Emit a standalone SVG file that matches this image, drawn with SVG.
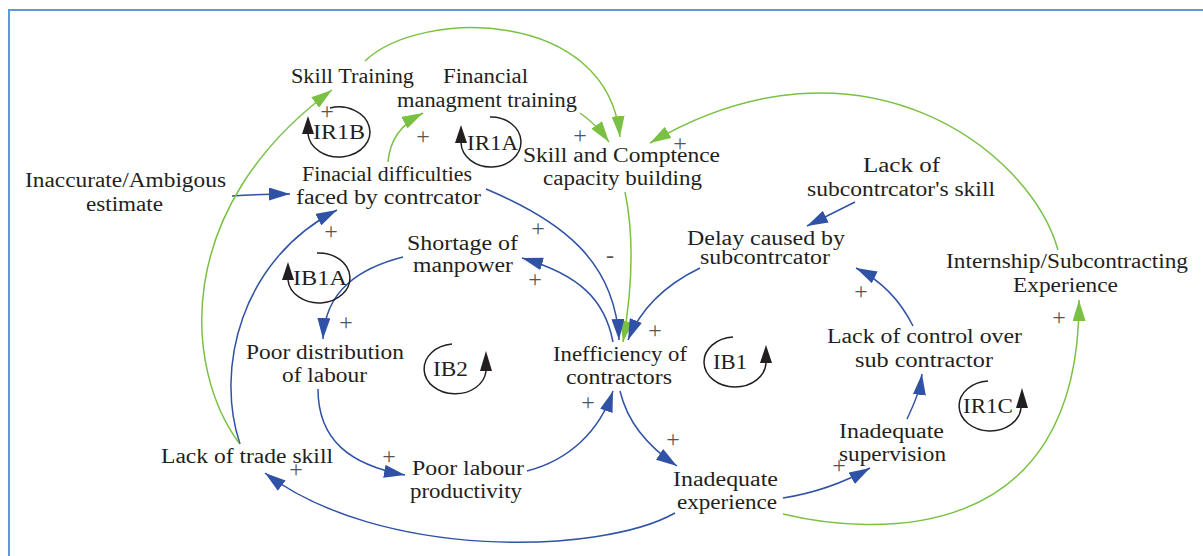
<svg xmlns="http://www.w3.org/2000/svg" width="1203" height="556" viewBox="0 0 1203 556" font-family="Liberation Serif">
<style>
.t{font-size:20px;fill:#231f20}
.p{font-size:24px;fill:#555}
.b{fill:none;stroke:#2f52a6;stroke-width:1.5;marker-end:url(#ab)}
.g{fill:none;stroke:#7ac143;stroke-width:1.5;marker-end:url(#ag)}
.loop{fill:none;stroke:#231f20;stroke-width:1.5}
.lh{fill:#231f20}
</style>
<defs>
<marker id="ab" markerUnits="userSpaceOnUse" markerWidth="21" markerHeight="13" refX="21" refY="6.5" orient="auto" viewBox="0 0 21 13"><path d="M0,0 L21,6.5 L0,13 z" fill="#2f52a6"/></marker>
<marker id="ag" markerUnits="userSpaceOnUse" markerWidth="21" markerHeight="13" refX="21" refY="6.5" orient="auto" viewBox="0 0 21 13"><path d="M0,0 L21,6.5 L0,13 z" fill="#7ac143"/></marker>
</defs>
<rect x="0" y="0" width="1203" height="556" fill="#fff"/>
<rect x="9" y="10" width="1215" height="570" fill="none" stroke="#5b9bd5" stroke-width="2"/>

<g id="connectors">
<path class="b" d="M232,196 Q260,194 290,194"/>
<path class="b" d="M240,444 C215,370 240,260 337,210"/>
<path class="g" d="M239,443 C185,370 170,210 332,90"/>
<path class="g" d="M365,61 C420,8 608,8 620,137"/>
<path class="g" d="M388,162 C390,140 400,125 423,113"/>
<path class="g" d="M580,113 Q596,124 609,142"/>
<path class="g" d="M1058,250 C1030,150 860,20 650,143"/>
<path class="g" d="M625,192 C635,240 632,290 623,342"/>
<path class="b" d="M486,189 C560,220 615,260 619,340"/>
<path class="b" d="M613,342 C605,300 580,275 522,258"/>
<path class="b" d="M700,268 C665,285 640,310 628,340"/>
<path class="b" d="M855,202 L807,226"/>
<path class="b" d="M913,326 C900,300 880,280 856,268"/>
<path class="b" d="M907,419 C915,402 920,390 922,374"/>
<path class="b" d="M783,498 C815,493 845,482 870,468"/>
<path class="g" d="M783,514 C870,535 1080,550 1079,300"/>
<path class="b" d="M675,513 C600,555 380,560 265,473"/>
<path class="b" d="M620,391 C628,425 650,448 677,466"/>
<path class="b" d="M527,471 C570,460 600,430 613,391"/>
<path class="b" d="M318,389 C318,440 350,465 405,475"/>
<path class="b" d="M403,257 C360,268 325,290 323,339"/>
<text class="p" font-family="Liberation Serif" x="327" y="119" text-anchor="middle">+</text>
<text class="p" font-family="Liberation Serif" x="423" y="144" text-anchor="middle">+</text>
<text class="p" font-family="Liberation Serif" x="580" y="143" text-anchor="middle">+</text>
<text class="p" font-family="Liberation Serif" x="680" y="151" text-anchor="middle">+</text>
<text class="p" font-family="Liberation Serif" x="331" y="239" text-anchor="middle">+</text>
<text class="p" font-family="Liberation Serif" x="538" y="236" text-anchor="middle">+</text>
<text class="p" font-family="Liberation Serif" x="535" y="287" text-anchor="middle">+</text>
<text class="p" font-family="Liberation Serif" x="346" y="330" text-anchor="middle">+</text>
<text class="p" font-family="Liberation Serif" x="655" y="338" text-anchor="middle">+</text>
<text class="p" font-family="Liberation Serif" x="588" y="410" text-anchor="middle">+</text>
<text class="p" font-family="Liberation Serif" x="673" y="447" text-anchor="middle">+</text>
<text class="p" font-family="Liberation Serif" x="389" y="464" text-anchor="middle">+</text>
<text class="p" font-family="Liberation Serif" x="296" y="477" text-anchor="middle">+</text>
<text class="p" font-family="Liberation Serif" x="839" y="473" text-anchor="middle">+</text>
<text class="p" font-family="Liberation Serif" x="861" y="299" text-anchor="middle">+</text>
<text class="p" font-family="Liberation Serif" x="1059" y="325" text-anchor="middle">+</text>
<text class="p" font-family="Liberation Serif" x="610" y="263" text-anchor="middle">-</text>
</g>

<g id="skill-training" font-family="Liberation Serif"><text class="t" x="291" y="83" textLength="123" lengthAdjust="spacingAndGlyphs">Skill Training</text></g>
<g id="financial-management-training" font-family="Liberation Serif">
<text class="t" x="443" y="83" textLength="85" lengthAdjust="spacingAndGlyphs">Financial</text>
<text class="t" x="397" y="107" textLength="180" lengthAdjust="spacingAndGlyphs">managment training</text>
</g>
<g id="inaccurate-estimate" font-family="Liberation Serif">
<text class="t" x="25" y="187" textLength="201" lengthAdjust="spacingAndGlyphs">Inaccurate/Ambigous</text>
<text class="t" x="86" y="211" textLength="77" lengthAdjust="spacingAndGlyphs">estimate</text>
</g>
<g id="financial-difficulties" font-family="Liberation Serif">
<text class="t" x="302" y="181" textLength="170" lengthAdjust="spacingAndGlyphs">Finacial difficulties</text>
<text class="t" x="296" y="204" textLength="185" lengthAdjust="spacingAndGlyphs">faced by contrcator</text>
</g>
<g id="skill-competence" font-family="Liberation Serif">
<text class="t" x="523" y="162" textLength="197" lengthAdjust="spacingAndGlyphs">Skill and Comptence</text>
<text class="t" x="543" y="185" textLength="159" lengthAdjust="spacingAndGlyphs">capacity building</text>
</g>
<g id="lack-subcontractor-skill" font-family="Liberation Serif">
<text class="t" x="863" y="172" textLength="77" lengthAdjust="spacingAndGlyphs">Lack of</text>
<text class="t" x="807" y="196" textLength="188" lengthAdjust="spacingAndGlyphs">subcontrcator's skill</text>
</g>
<g id="delay-subcontractor" font-family="Liberation Serif">
<text class="t" x="687" y="245" textLength="158" lengthAdjust="spacingAndGlyphs">Delay caused by</text>
<text class="t" x="700" y="264" textLength="130" lengthAdjust="spacingAndGlyphs">subcontrcator</text>
</g>
<g id="shortage-manpower" font-family="Liberation Serif">
<text class="t" x="407" y="250" textLength="111" lengthAdjust="spacingAndGlyphs">Shortage of</text>
<text class="t" x="413" y="272" textLength="100" lengthAdjust="spacingAndGlyphs">manpower</text>
</g>
<g id="internship" font-family="Liberation Serif">
<text class="t" x="946" y="268" textLength="242" lengthAdjust="spacingAndGlyphs">Internship/Subcontracting</text>
<text class="t" x="1013" y="292" textLength="105" lengthAdjust="spacingAndGlyphs">Experience</text>
</g>
<g id="poor-distribution" font-family="Liberation Serif">
<text class="t" x="246" y="359" textLength="158" lengthAdjust="spacingAndGlyphs">Poor distribution</text>
<text class="t" x="282" y="382" textLength="85" lengthAdjust="spacingAndGlyphs">of labour</text>
</g>
<g id="inefficiency" font-family="Liberation Serif">
<text class="t" x="553" y="361" textLength="134" lengthAdjust="spacingAndGlyphs">Inefficiency of</text>
<text class="t" x="566" y="384" textLength="106" lengthAdjust="spacingAndGlyphs">contractors</text>
</g>
<g id="lack-control" font-family="Liberation Serif">
<text class="t" x="827" y="343" textLength="195" lengthAdjust="spacingAndGlyphs">Lack of control over</text>
<text class="t" x="855" y="367" textLength="138" lengthAdjust="spacingAndGlyphs">sub contractor</text>
</g>
<g id="inadequate-supervision" font-family="Liberation Serif">
<text class="t" x="839" y="438" textLength="105" lengthAdjust="spacingAndGlyphs">Inadequate</text>
<text class="t" x="839" y="461" textLength="107" lengthAdjust="spacingAndGlyphs">supervision</text>
</g>
<g id="lack-trade-skill" font-family="Liberation Serif"><text class="t" x="161" y="463" textLength="172" lengthAdjust="spacingAndGlyphs">Lack of trade skill</text></g>
<g id="poor-productivity" font-family="Liberation Serif">
<text class="t" x="412" y="475" textLength="112" lengthAdjust="spacingAndGlyphs">Poor labour</text>
<text class="t" x="410" y="498" textLength="112" lengthAdjust="spacingAndGlyphs">productivity</text>
</g>
<g id="inadequate-experience" font-family="Liberation Serif">
<text class="t" x="673" y="486" textLength="105" lengthAdjust="spacingAndGlyphs">Inadequate</text>
<text class="t" x="677" y="509" textLength="100" lengthAdjust="spacingAndGlyphs">experience</text>
</g>

<g id="loop-IR1B" font-family="Liberation Serif">
<path class="loop" d="M330,108 A31,25 0 1 1 308,134"/>
<path class="lh" d="M308,116 L314,134 L302,134 z"/>
<text class="t" x="313" y="139" textLength="52" lengthAdjust="spacingAndGlyphs">IR1B</text>
</g>
<g id="loop-IR1A" font-family="Liberation Serif">
<path class="loop" d="M490,117 A30,25 0 1 1 461,143"/>
<path class="lh" d="M461,125 L467,143 L455,143 z"/>
<text class="t" x="467" y="150" textLength="51" lengthAdjust="spacingAndGlyphs">IR1A</text>
</g>
<g id="loop-IB1A" font-family="Liberation Serif">
<path class="loop" d="M317,253 A31,25 0 1 1 288,280"/>
<path class="lh" d="M288,262 L294,280 L282,280 z"/>
<text class="t" x="293" y="285" textLength="54" lengthAdjust="spacingAndGlyphs">IB1A</text>
</g>
<g id="loop-IB2" font-family="Liberation Serif">
<path class="loop" d="M452,344 A31,25 0 1 0 486,371"/>
<path class="lh" d="M486,351 L492,371 L480,371 z"/>
<text class="t" x="433" y="376" textLength="35" lengthAdjust="spacingAndGlyphs">IB2</text>
</g>
<g id="loop-IB1" font-family="Liberation Serif">
<path class="loop" d="M733,337 A31,25 0 1 0 766,363"/>
<path class="lh" d="M766,345 L772,363 L760,363 z"/>
<text class="t" x="713" y="369" textLength="34" lengthAdjust="spacingAndGlyphs">IB1</text>
</g>
<g id="loop-IR1C" font-family="Liberation Serif">
<path class="loop" d="M988,381 A31,25 0 1 0 1021,408"/>
<path class="lh" d="M1022,388 L1028,408 L1016,408 z"/>
<text class="t" x="963" y="413" textLength="50" lengthAdjust="spacingAndGlyphs">IR1C</text>
</g>
</svg>
